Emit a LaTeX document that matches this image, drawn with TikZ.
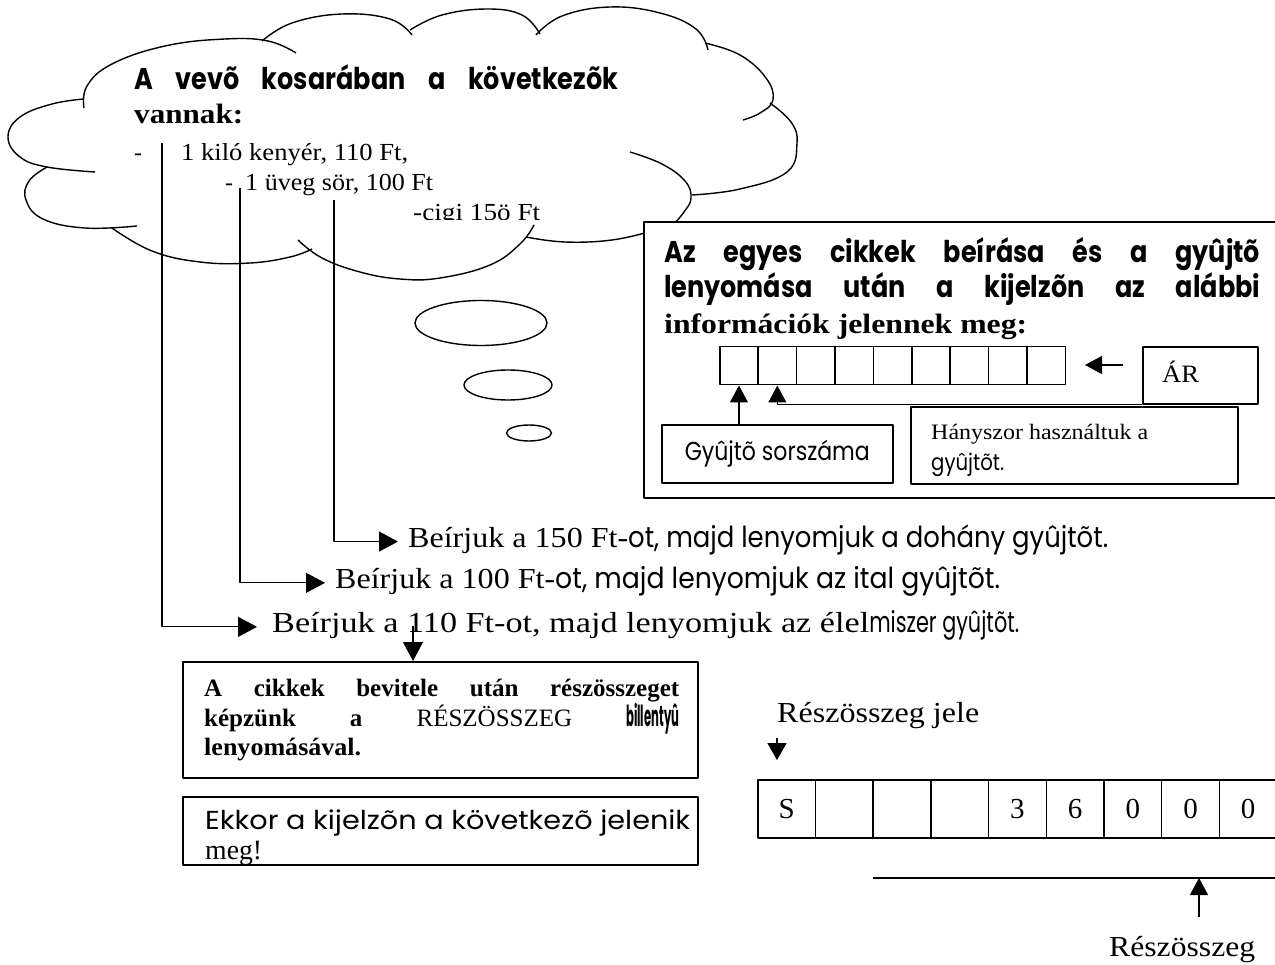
\documentclass[tikz,border=0pt]{standalone}
\usepackage{graphicx}
\usepackage{fontspec}
\setmainfont{Liberation Serif}
\newfontfamily\gothic{Poppins}[FakeStretch=0.85]
\usetikzlibrary{arrows.meta}
% stretch or squeeze a piece of text horizontally to a given width
\newcommand{\fitw}[2]{\resizebox{#1}{\height}{#2}}
\newcommand{\sz}[1]{\fontsize{#1}{#1}\selectfont}

\begin{document}
\begin{tikzpicture}[x=1pt,y=-1pt,
  line join=round,
  lobe/.style={line width=1.4pt},
  box/.style={draw, line width=1.6pt, fill=white},
  txt/.style={inner sep=0pt, anchor=west},
  btxt/.style={inner sep=0pt, anchor=base west},
  arr/.style={-{Triangle[length=19pt,width=20pt]}, line width=1.2pt},
  sarr/.style={-{Triangle[length=17pt,width=18pt]}, line width=1.2pt},
  cell/.style={draw, line width=1.5pt, minimum width=38.4pt, minimum height=38pt, inner sep=0pt, anchor=north west},
  bigcell/.style={draw, line width=1.5pt, minimum width=57.7pt, minimum height=58pt, inner sep=0pt, anchor=north west, font=\fontsize{29}{32}\selectfont},
]
\useasboundingbox (0,0) rectangle (1275,965);

% ---- thought cloud: one arc per lobe ----
\draw[lobe] plot[smooth, tension=0.7] coordinates {(84,108) (87,86) (112,64) (165,46) (225,39) (268,41) (296,53)};
\draw[lobe] plot[smooth, tension=0.7] coordinates {(262,41) (292,23) (342,14) (390,19) (412,35)};
\draw[lobe] plot[smooth, tension=0.7] coordinates {(410,30) (442,15) (487,9) (522,15) (540,34)};
\draw[lobe] plot[smooth, tension=0.7] coordinates {(536,35) (562,16) (610,7) (660,13) (696,29) (708,50)};
\draw[lobe] plot[smooth, tension=0.7] coordinates {(705,43) (740,55) (766,78) (773,100) (760,113) (743,120)};
\draw[lobe] plot[smooth, tension=0.7] coordinates {(770,103) (791,122) (797,143) (787,172) (740,189) (692,195)};
\draw[lobe] plot[smooth, tension=0.7] coordinates {(630,152) (662,164) (685,181) (691,198) (684,212) (672,226)};
\draw[lobe] plot[smooth, tension=0.7] coordinates {(526,237) (565,242) (612,240) (652,231)};
\draw[lobe] plot[smooth, tension=0.7] coordinates {(534,225) (520,244) (490,265) (440,278) (400,279) (360,272) (322,258) (298,240)};
\draw[lobe] plot[smooth, tension=0.7] coordinates {(112,228) (152,251) (200,262) (250,263) (290,257) (312,249)};
\draw[lobe] plot[smooth, tension=0.7] coordinates {(47,167) (29,181) (26,200) (43,219) (85,228) (137,226)};
\draw[lobe] plot[smooth, tension=0.7] coordinates {(84,99) (52,104) (20,117) (8,137) (20,157) (47,167) (95,172)};

% ---- thought bubbles ----
\draw[lobe] (481,323) ellipse (66 and 22.5);
\draw[lobe] (508,385) ellipse (44 and 15);
\draw[lobe] (529,433) ellipse (22.5 and 8);

% ---- cloud text ----
\node[btxt] (title) at (134,90) {\gothic\bfseries\sz{30}\makebox[484pt][s]{A vevõ kosarában a következõk}};
\node[btxt] (vannak) at (134,124) {\fitw{109pt}{\bfseries\sz{28}vannak:}};
\node[btxt] (dash1) at (134,161) {\sz{24}-};
\node[btxt] (item1) at (181,161) {\fitw{227pt}{\sz{24.5}1 kiló kenyér, 110 Ft,}};
\node[btxt] (dash2) at (225,191) {\sz{24}-};
\node[btxt] (item2) at (245,191) {\fitw{188pt}{\sz{24.5}1 üveg sör, 100 Ft}};
\begin{scope}
  \clip (400,190) rectangle (600,219.5);
  \node[btxt] (item3) at (413,221) {\fitw{127pt}{\sz{24.5}-cigi 15ö Ft}};
\end{scope}

% ---- entry lines ----
\node[btxt] (t150) at (408,547) {\fitw{220pt}{\sz{29}Beírjuk a 150 Ft-}\fitw{480pt}{\gothic\sz{29}ot, majd lenyomjuk a dohány gyûjtõt.}};
\node[btxt] (t100) at (335,588) {\fitw{220pt}{\sz{29}Beírjuk a 100 Ft-}\fitw{445pt}{\gothic\sz{29}ot, majd lenyomjuk az ital gyûjtõt.}};
\node[btxt] (t110) at (272,632) {\fitw{597pt}{\sz{29}Beírjuk a 110 Ft-ot, majd lenyomjuk az élel}\fitw{150pt}{\gothic\sz{29}miszer gyûjtõt.}};

\coordinate (p110) at (162,143);
\coordinate (p100) at (240,188);
\coordinate (p150) at (334,200);
\draw[arr] (p150) |- ([xshift=-10pt,yshift=-2pt]t150.west);
\draw[arr] (p100) |- ([xshift=-10pt,yshift=-2pt]t100.west);
\draw[arr] (p110) |- ([xshift=-15pt,yshift=-2pt]t110.west);

% ---- display information panel ----
\node[box, anchor=north west, minimum width=660pt, minimum height=276pt] (info) at (643,221) {};
\node[btxt] (h1) at (664,263) {\gothic\bfseries\sz{30}\makebox[596pt][s]{Az egyes cikkek beírása és a gyûjtõ}};
\node[btxt] (h2) at (664,298) {\gothic\bfseries\sz{30}\makebox[596pt][s]{lenyomása után a kijelzõn az alábbi}};
\node[btxt] (h3) at (664,334) {\fitw{363pt}{\bfseries\sz{28}információk jelennek meg:}};

\foreach \i in {0,...,8}
  \node[cell] (k\i) at ({719+38.4*\i},346) {};

\node[box, anchor=north west, minimum width=115pt, minimum height=57pt] (ar) at (1142,346) {};
\node[btxt] (arT) at (1162,383) {\fitw{37pt}{\sz{25}ÁR}};
\coordinate (arS) at (1123,365);
\coordinate (arE) at (1085,365);
\draw[sarr] (arS) -- (arE);

\node[box, anchor=north west, minimum width=231pt, minimum height=58pt] (gy) at (661,424)
      {\fitw{185pt}{\gothic\sz{26}Gyûjtõ sorszáma}};
\node[box, anchor=north west, minimum width=327pt, minimum height=77pt] (hany) at (910,406) {};
\node[btxt] (hany1) at (931,440) {\fitw{217pt}{\sz{22}Hányszor használtuk a}};
\node[btxt] (hany2) at (931,471) {\fitw{73pt}{\gothic\sz{23}gyûjtõt.}};

\draw[sarr] (gy.north -| k0.south) -- (k0.south);
\draw[sarr] (ar.south west) -- (ar.south west -| k1.south) -- (k1.south);

% ---- subtotal step ----
\coordinate (c110) at (413,626);
\node[box, anchor=north west, minimum width=515pt, minimum height=116pt] (boxA) at (182,661) {};
\node[btxt] (a1) at (204,696) {\bfseries\sz{25}\makebox[475pt][s]{A cikkek bevitele után részösszeget}};
\node[btxt] (a2) at (204,726) {\bfseries\sz{25}\makebox[475pt][s]{képzünk a {\mdseries RÉSZÖSSZEG} \fitw{53pt}{\gothic\sz{29}billentyû}}};
\node[btxt] (a3) at (204,755) {\fitw{157pt}{\bfseries\sz{25}lenyomásával.}};
\draw[arr] (c110) -- (c110 |- boxA.north);

\node[box, anchor=north west, minimum width=515pt, minimum height=68pt] (boxB) at (182,796) {};
\node[btxt] (ekkor) at (205,829) {\fitw{485pt}{\gothic\sz{26}Ekkor a kijelzõn a következõ jelenik}};
\node[btxt] (meg) at (205,859) {\fitw{57pt}{\sz{28}meg!}};

% ---- subtotal display ----
\node[btxt] (jele) at (777,722) {\fitw{202pt}{\sz{29}Részösszeg jele}};
\coordinate (jA) at (777,738);
\coordinate (jB) at (777,760);
\draw[-{Triangle[length=17pt,width=19pt]}, line width=1.2pt] (jA) -- (jB);

\foreach \v [count=\i from 0] in {S,,,,3,6,0,0,0,}
  \node[bigcell] (d\i) at ({757+57.7*\i},779) {\v};

\coordinate (sumL) at (873,878);
\coordinate (sumR) at (1290,878);
\draw[line width=1.5pt] (sumL) -- (sumR);
\node[btxt] (resz) at (1109,956) {\fitw{146pt}{\sz{29}Részösszeg}};
\coordinate (rA) at (1199,917);
\draw[sarr] (rA) -- (rA |- sumL);
\end{tikzpicture}
\end{document}
